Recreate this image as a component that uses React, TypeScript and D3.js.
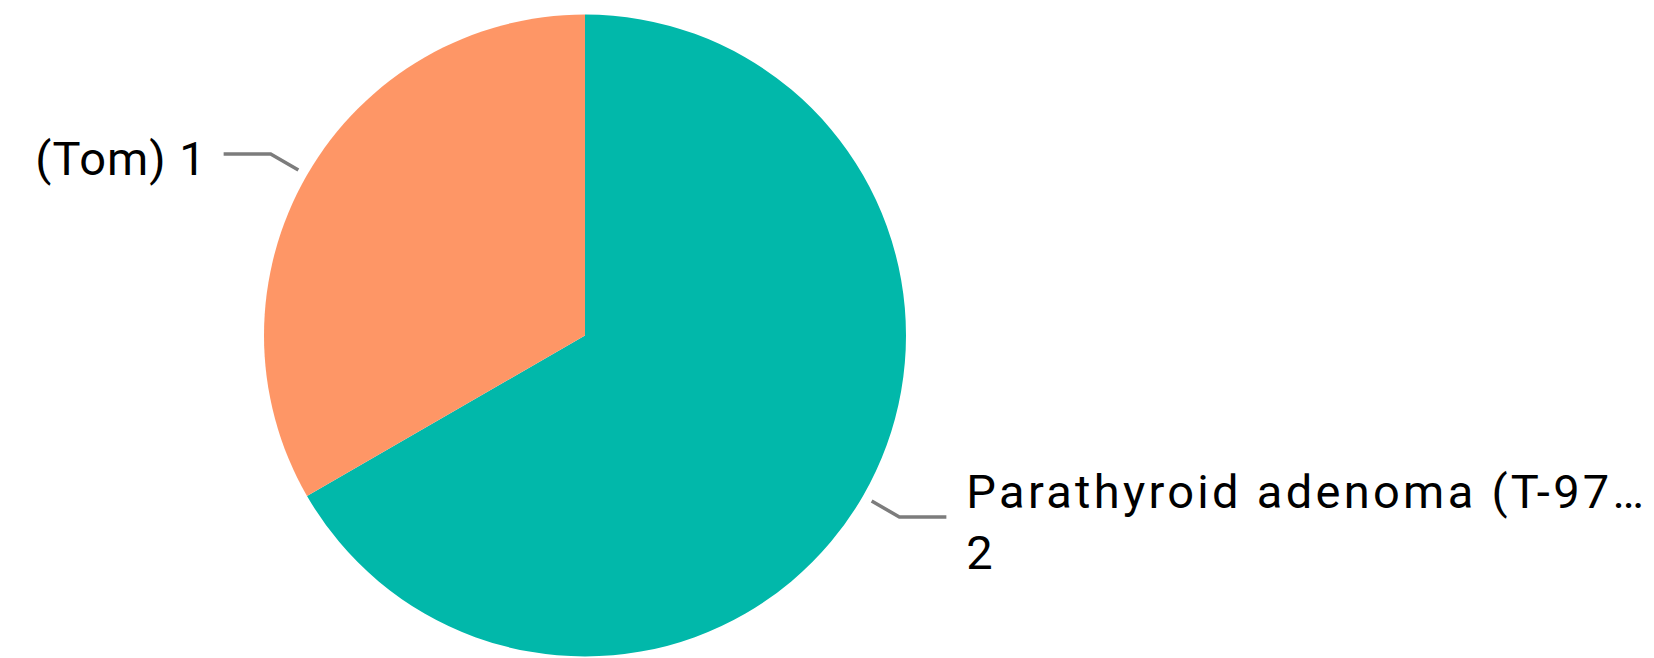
import React from "react";
import * as d3 from "d3";

const categories: string[] = ["Parathyroid adenoma (T-97…", "(Tom)"];
const values: number[] = [2, 1];
const colors: string[] = ["#01B8AA", "#FE9666"];

const WIDTH = 1654;
const HEIGHT = 658;
const CX = 585;
const CY = 335.5;
const R = 321;

export default function App() {
  const pie = d3
    .pie<number>()
    .sort(null)
    .value((d) => d)(values);
  const arc = d3.arc<d3.PieArcDatum<number>>().innerRadius(0).outerRadius(R);
  const font = "Roboto, 'DejaVu Sans', sans-serif";

  return (
    <svg
      width={WIDTH}
      height={HEIGHT}
      style={{ position: "absolute", left: 0, top: 0, background: "#fff" }}
    >
      <g transform={`translate(${CX},${CY})`}>
        {pie.map((p, i) => (
          <path key={"s" + i} d={arc(p) || ""} fill={colors[i]} />
        ))}
        {pie.map((p, i) => {
          const mid = (p.startAngle + p.endAngle) / 2;
          const sx = Math.sin(mid);
          const sy = -Math.cos(mid);
          const right = sx > 0;
          const p0 = [sx * (R + 10), sy * (R + 10)];
          const p1 = [sx * (R + 42), sy * (R + 42)];
          const p2 = [p1[0] + (right ? 47 : -47), p1[1]];
          const tx = p2[0] + (right ? 20 : -23);
          return (
            <g key={"l" + i}>
              <polyline
                points={[p0, p1, p2].map((q) => q.join(",")).join(" ")}
                fill="none"
                stroke="#7c7c7c"
                strokeWidth={3.5}
              />
              {right ? (
                <text
                  x={tx}
                  y={p1[1] - 9}
                  fontFamily={font}
                  fontSize={47}
                  fill="#000"
                  letterSpacing={3.3}
                >
                  <tspan x={tx}>{categories[i]}</tspan>
                  <tspan x={tx} dy={61}>
                    {values[i]}
                  </tspan>
                </text>
              ) : (
                <text
                  x={tx + 6}
                  y={p1[1] + 21}
                  fontFamily={font}
                  fontSize={47}
                  fill="#000"
                  textAnchor="end"
                  letterSpacing={1}
                >
                  {`${categories[i]} ${values[i]}`}
                </text>
              )}
            </g>
          );
        })}
      </g>
    </svg>
  );
}
